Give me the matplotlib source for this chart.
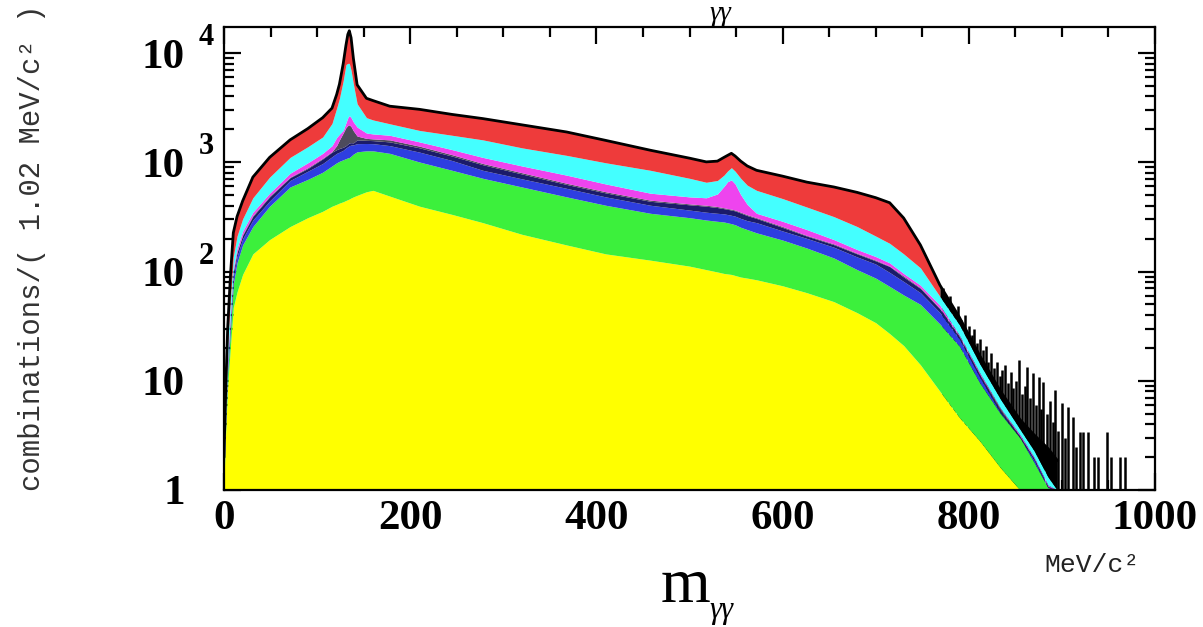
import numpy as np
import matplotlib
matplotlib.use("Agg")
import matplotlib.pyplot as plt
from matplotlib.ticker import FixedLocator, FixedFormatter, MultipleLocator, LogLocator, NullFormatter
from matplotlib.transforms import blended_transform_factory

# m_gg sampling points (MeV/c^2) and upper edge of each stacked layer (counts / 1.02 MeV)
mass = [0, 2, 4, 7, 10, 14, 20, 31, 49, 71, 90, 106, 116, 121, 124, 128, 131, 133, 134.6, 136.5,
        139, 143, 153, 160, 178, 210, 245, 278, 320, 368, 410, 458, 500, 518, 530, 537, 541, 545,
        549, 555, 562, 572, 600, 626, 655, 680, 700, 715, 730, 748, 769, 790, 812, 834, 855, 870,
        885, 895]

total = [2.1, 9.2, 31, 94, 226, 318, 442, 731, 1108, 1603, 2033, 2560, 3130, 4170, 5190, 7950,
         11800, 14800, 16000, 13800, 8900, 5120, 3850, 3670, 3260, 3050, 2740, 2510, 2200, 1893,
         1585, 1288, 1090, 1008, 1024, 1108, 1157, 1207, 1140, 1024, 925, 844, 746, 658, 594, 530,
         474, 426, 309, 175, 75, 38, 16.8, 8, 4.4, 3.2, 2.4, 1.87]

cyan_top = [1.87, 6.8, 22, 59, 137, 211, 303, 473, 731, 1108, 1387, 1704, 2265, 3130, 3850, 5570,
            7850, 8040, 8040, 6930, 5190, 3430, 2560, 2440, 2250, 1955, 1766, 1603, 1355, 1156,
            989, 844, 713, 656, 681, 762, 834, 892, 828, 713, 617, 553, 465, 389, 318, 258, 211,
            181, 145, 108, 59, 32.5, 14.2, 6.8, 3.6, 2.3, 1.32, 1.0]

magenta_top = [1.65, 5.6, 16.8, 43, 108, 164, 234, 349, 521, 794, 989, 1207, 1420, 1687, 1806,
               1955, 2300, 2560, 2680, 2560, 2335, 2100, 1852, 1817, 1766, 1536, 1305, 1108, 925,
               762, 633, 521, 482, 473, 513, 601, 665, 689, 633, 505, 411, 341, 288, 242, 196,
               159, 137, 120, 96, 75, 49, 26, 11.7, 5.6, 3.2, 2.0, 1.11, 1.0]

gray_top = [1.54, 5.2, 15.5, 39, 101, 152, 218, 326, 490, 731, 893, 1090, 1255, 1420, 1603, 1852,
            2080, 2170, 2200, 2120, 1937, 1737, 1654, 1637, 1603, 1403, 1173, 974, 802, 642, 537,
            450, 416, 404, 393, 383, 377, 372, 365, 349, 331, 311, 258, 214, 179, 147, 127, 112,
            91, 71, 46, 25.3, 11.3, 5.5, 3.1, 1.95, 1.08, 1.0]

navy_top = [1.54, 5.1, 15.3, 38.5, 99, 149, 214, 320, 482, 723, 877, 1074, 1238, 1305, 1338, 1372,
            1420, 1470, 1505, 1512, 1505, 1603, 1586, 1578, 1536, 1355, 1139, 949, 781, 626, 524,
            439, 408, 396, 385, 376, 371, 365, 359, 343, 325, 306, 253, 211, 176, 145, 125, 111,
            89, 70, 45.5, 25, 11.2, 5.3, 3.1, 1.95, 1.08, 1.0]

blue_top = [1.43, 4.75, 14.2, 35, 91, 137, 199, 296, 442, 681, 828, 974, 1124, 1207, 1238, 1288,
            1355, 1387, 1420, 1436, 1444, 1480, 1485, 1480, 1420, 1238, 1037, 844, 705, 577, 482,
            404, 365, 349, 341, 337, 332, 327, 321, 306, 292, 280, 235, 201, 167, 136, 117, 98,
            81, 64, 42, 24, 10.7, 5.1, 3.0, 1.9, 1.06, 1.0]

green_top = [1.32, 4.4, 12.3, 30, 77, 120, 175, 258, 396, 594, 697, 811, 925, 989, 1021, 1054,
             1080, 1097, 1105, 1139, 1190, 1247, 1272, 1272, 1207, 1005, 844, 713, 594, 482, 404,
             341, 311, 296, 288, 284, 279, 274, 268, 254, 242, 226, 194, 164, 133, 104, 87, 73,
             61, 50, 33, 20.7, 9.5, 5.0, 3.0, 1.8, 1.05, 1.0]

yellow_top = [1.21, 3.8, 9.2, 21, 47, 65, 94, 145, 196, 258, 311, 356, 396, 412, 423, 435, 447,
              455, 461, 471, 482, 498, 537, 553, 490, 396, 333, 280, 219, 175, 145, 127, 112, 104,
              99, 96, 95, 94, 92, 89, 87, 84, 74, 64, 53, 42, 34, 27, 21, 14, 8, 4.6, 2.8, 1.6,
              1.0, 1.0, 1.0, 1.0]

# low-statistics bins of the high-mass tail (black spikes)
tail_mass = [772, 776, 780, 784, 788, 792, 796, 800, 803, 806, 809, 812, 815, 818, 821, 824, 827,
             830, 833, 836, 839, 842, 845, 848, 851, 854, 857, 860, 862, 866, 869, 872, 875, 878,
             880, 884, 887, 890, 893, 896, 900, 903, 907, 912, 915, 919, 923, 928, 934, 939, 948,
             953, 962, 968]
tail_counts = [70, 52, 60, 44, 48, 36, 40, 32, 26, 30, 22, 24, 19, 21, 15, 18, 13, 15, 11, 12.5,
               14, 9.5, 12, 8.5, 10, 15.5, 7.5, 9, 13.4, 7, 11.8, 6, 10.8, 5.5, 9.7, 5, 6.5, 4.2,
               8.2, 3.5, 6.3, 3, 5.8, 4.7, 2.5, 3.4, 3.4, 3.4, 2.0, 2.0, 3.4, 2.0, 2.0, 2.0]

x_ticks = [0, 200, 400, 600, 800, 1000]
y_ticks = [1, 10, 100, 1000, 10000]
y_ticklabels = ['1', '10', '10', '10', '10']
y_exponents = ['', '', '2', '3', '4']

m = np.array(mass)
layers = [
    (np.ones_like(m, dtype=float), yellow_top, '#ffff00'),
    (yellow_top, green_top, '#3cf03c'),
    (green_top, blue_top, '#2e3ee0'),
    (blue_top, navy_top, '#1b1b6a'),
    (navy_top, gray_top, '#4d4b5c'),
    (gray_top, magenta_top, '#ee44ee'),
    (magenta_top, cyan_top, '#44ffff'),
]

fig = plt.figure(figsize=(12.03, 6.27), dpi=100)
ax = fig.add_axes([224 / 1203, 1 - 490 / 627, 931 / 1203, 463 / 627])

ax.vlines(tail_mass, 1, tail_counts, color='black', lw=1.8, zorder=1)
for lo, hi, col in layers:
    ax.fill_between(m, lo, hi, color=col, lw=0, zorder=2)
ax.fill_between(m, cyan_top, total, where=m <= 770, color='#ee3b3b', lw=0, zorder=2)
ax.fill_between(m, cyan_top, total, where=m >= 760, color='black', lw=0, zorder=2)
ax.plot(m, total, color='black', lw=2, zorder=3)

ax.set_yscale('log')
ax.set_xlim(0, 1000)
ax.set_ylim(1, 17300)

ax.xaxis.set_major_locator(FixedLocator(x_ticks))
ax.xaxis.set_minor_locator(MultipleLocator(50))
ax.yaxis.set_major_locator(FixedLocator(y_ticks))
ax.yaxis.set_major_formatter(FixedFormatter(y_ticklabels))
ax.yaxis.set_minor_locator(LogLocator(base=10, subs=np.arange(2, 10)))
ax.yaxis.set_minor_formatter(NullFormatter())

ax.tick_params(which='both', direction='in', top=True, right=True, width=1.6, color='black')
ax.tick_params(which='major', length=12)
ax.tick_params(which='minor', length=7)
ax.tick_params(axis='x', which='major', pad=7)
ax.tick_params(axis='y', which='major', pad=28)
for lab in ax.get_xticklabels() + ax.get_yticklabels():
    lab.set_fontfamily('Liberation Serif')
    lab.set_fontweight('bold')
    lab.set_fontsize(31)
for sp in ax.spines.values():
    sp.set_linewidth(1.6)

# decade exponents, drawn ROOT-style next to the "10"
trans = blended_transform_factory(ax.transAxes, ax.transData)
for val, ex in zip(y_ticks, y_exponents):
    if ex:
        ax.annotate(ex, xy=(0, val), xycoords=trans, xytext=(-18, 11), textcoords='offset points',
                    ha='left', va='center', family='Liberation Serif', fontweight='bold',
                    fontsize=22, annotation_clip=False)

fig.text(0.027, 0.605, 'combinations/( 1.02 MeV/c\u00b2 )', rotation=90, ha='center', va='center',
         family='Liberation Mono', fontsize=20.8, color='#333333')
fig.text(1092 / 1203, 1 - 565 / 627, 'MeV/c\u00b2', ha='center', va='center',
         family='Liberation Mono', fontsize=19, color='#222222')
fig.text(685 / 1203, 1 - 602 / 627, 'm', ha='center', va='baseline',
         family='Liberation Serif', fontsize=46)
fig.text(709 / 1203, 1 - 618 / 627, '\u03b3\u03b3', ha='left', va='baseline',
         family='Liberation Serif', style='italic', fontsize=22)
fig.text(709 / 1203, 1 - 20 / 627, '\u03b3\u03b3', ha='left', va='baseline',
         family='Liberation Serif', style='italic', fontsize=20)

fig.savefig('out.png', dpi=100)
